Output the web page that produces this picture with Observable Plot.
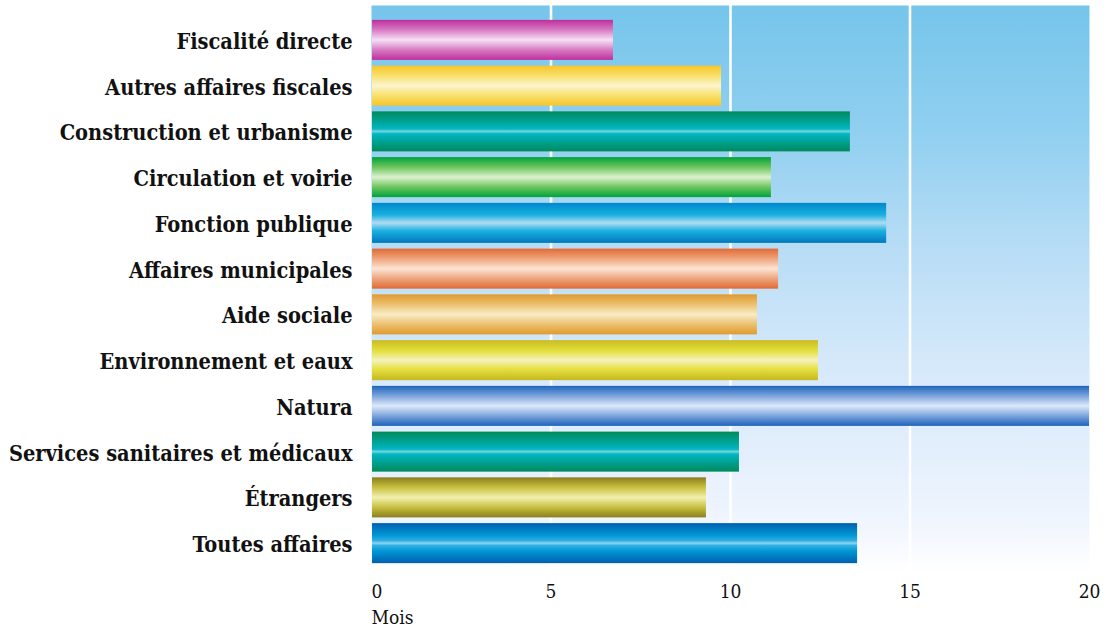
<!DOCTYPE html>
<html>
<head>
<meta charset="utf-8">
<script src="https://cdn.jsdelivr.net/npm/d3@7"></script>
<script src="https://cdn.jsdelivr.net/npm/@observablehq/plot@0.6"></script>
<style>
  html, body { margin: 0; padding: 0; background: #ffffff; }
  #chart svg { display: block; }
</style>
</head>
<body>
<div id="chart"></div>
<script>
// ---- Data ----
const categories = [
  "Fiscalité directe",
  "Autres affaires fiscales",
  "Construction et urbanisme",
  "Circulation et voirie",
  "Fonction publique",
  "Affaires municipales",
  "Aide sociale",
  "Environnement et eaux",
  "Natura",
  "Services sanitaires et médicaux",
  "Étrangers",
  "Toutes affaires"
];
const months = [6.74, 9.75, 13.34, 11.14, 14.35, 11.34, 10.75, 12.45, 20, 10.25, 9.33, 13.54];
const xTicks = [0, 5, 10, 15, 20];
const xLabel = "Mois";

// ---- Styles (bar gradients, top → middle → bottom) ----
const teal = [[0, "#008a5c"], [0.3, "#00a7a0"], [0.44, "#00b8c4"], [0.5, "#7ad4da"], [0.56, "#00b8c4"], [0.7, "#00a7a0"], [1, "#008a5c"]];
const palettes = [
  [[0, "#bf2f9b"], [0.25, "#d77ac3"], [0.5, "#f6e0f4"], [0.75, "#d77ac3"], [1, "#bf2f9b"]],
  [[0, "#f7c52c"], [0.25, "#f9e06a"], [0.5, "#fcf4cf"], [0.75, "#f9e06a"], [1, "#f7c52c"]],
  teal,
  [[0, "#00a23c"], [0.25, "#6cc45c"], [0.5, "#dcf2cf"], [0.75, "#6cc45c"], [1, "#00a23c"]],
  [[0, "#0088cc"], [0.3, "#19b0e0"], [0.5, "#b0dcf2"], [0.7, "#19b0e0"], [1, "#0078bc"]],
  [[0, "#e06a34"], [0.25, "#eea47c"], [0.5, "#fce4d4"], [0.75, "#eea47c"], [1, "#e06a34"]],
  [[0, "#e09a2e"], [0.25, "#ecc070"], [0.5, "#f8ecc4"], [0.75, "#ecc070"], [1, "#e09a2e"]],
  [[0, "#c8bc20"], [0.28, "#e6e040"], [0.5, "#f4f2c0"], [0.72, "#e6e040"], [1, "#c4b820"]],
  [[0, "#1e64bc"], [0.25, "#7ca4dc"], [0.5, "#dce9f9"], [0.75, "#7ca4dc"], [1, "#1e64bc"]],
  teal,
  [[0, "#8a7e1c"], [0.25, "#c8c040"], [0.5, "#f2f0b0"], [0.75, "#c8c040"], [1, "#8a7e1c"]],
  [[0, "#0060b0"], [0.3, "#0096d4"], [0.44, "#30b0e4"], [0.5, "#90d4f2"], [0.56, "#30b0e4"], [0.7, "#0096d4"], [1, "#0060b0"]]
];
const bgStops = [[0, "#76c5eb"], [0.22, "#90cff0"], [0.42, "#b6dcf5"], [0.62, "#d4e8fa"], [0.78, "#e2eefc"], [0.92, "#f1f6fe"], [1, "#ffffff"]];

const rows = categories.map((c, i) => ({category: c, value: months[i], grad: `url(#barGrad${i})`}));

const labelFont = "'DejaVu Serif Condensed', 'DejaVu Serif', serif";

const svg = Plot.plot({
  width: 1112,
  height: 634,
  marginLeft: 371,
  marginRight: 23,
  marginTop: 17,
  marginBottom: 68,
  style: {fontFamily: labelFont, background: "transparent"},
  x: {domain: [0, 20], axis: null},
  y: {domain: categories, paddingInner: 0.125, paddingOuter: 0.0625, round: false, axis: null},
  color: {type: "identity"},
  marks: [
    Plot.frame({fill: "url(#bgGrad)", stroke: null, insetTop: -12, insetBottom: -6}),
    Plot.ruleX(xTicks.filter(d => d > 0 && d < 20), {stroke: "white", strokeWidth: 2.6, insetTop: -12, insetBottom: -6}),
    Plot.barX(rows, {x: "value", y: "category", fill: "grad", insetLeft: 1}),
    Plot.text(categories, {x: 0, y: d => d, text: d => d, textAnchor: "end", dx: -19, dy: 1.5,
      fontSize: 21.6, fontWeight: "bold", fill: "#111"}),
    Plot.text(xTicks.filter(d => d === 0), {x: d => d, text: d => String(d), frameAnchor: "bottom", lineAnchor: "top",
      textAnchor: "start", dy: 17.5, fontSize: 19, fill: "#111"}),
    Plot.text(xTicks.filter(d => d !== 0), {x: d => d, text: d => String(d), frameAnchor: "bottom", lineAnchor: "top",
      textAnchor: "middle", dy: 17.5, fontSize: 19, fill: "#111"}),
    Plot.text([xLabel], {x: 0, text: d => d, frameAnchor: "bottom", lineAnchor: "top",
      textAnchor: "start", dy: 43.5, fontSize: 19, fill: "#111"})
  ]
});

// gradient definitions
const defs = d3.select(svg).insert("defs", ":first-child");
const bg = defs.append("linearGradient").attr("id", "bgGrad").attr("x1", 0).attr("y1", 0).attr("x2", 0).attr("y2", 1);
bgStops.forEach(([o, c]) => bg.append("stop").attr("offset", o).attr("stop-color", c));
palettes.forEach((stops, i) => {
  const g = defs.append("linearGradient").attr("id", `barGrad${i}`).attr("x1", 0).attr("y1", 0).attr("x2", 0).attr("y2", 1);
  stops.forEach(([o, c]) => g.append("stop").attr("offset", o).attr("stop-color", c));
});

document.getElementById("chart").appendChild(svg);
</script>
</body>
</html>
